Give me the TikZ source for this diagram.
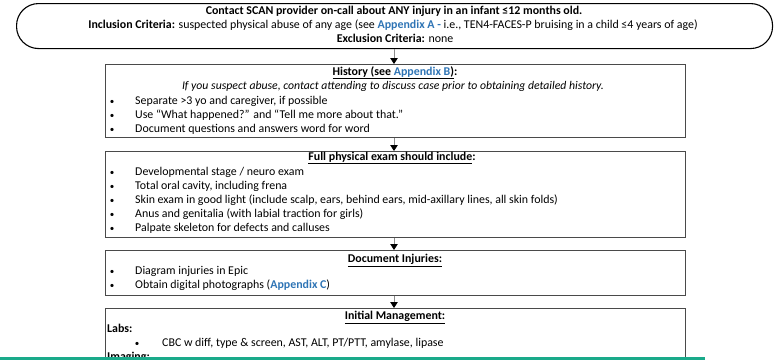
\documentclass[tikz,border=0pt]{standalone}
\usepackage{fontspec}
\setmainfont{Carlito}
\usetikzlibrary{arrows.meta}
\definecolor{linkblue}{HTML}{2E74B5}
\definecolor{boxgray}{HTML}{4A4A4A}
\definecolor{shaftgray}{HTML}{8C8C8C}
\definecolor{tealline}{HTML}{1AAA8A}
\begin{document}
\begin{tikzpicture}[x=1pt,y=-1pt,
  font=\fontsize{11.9}{14}\selectfont,
  box/.style={draw=boxgray, line width=1.2pt, inner sep=0pt, anchor=north west},
  stadium/.style={draw=black, line width=1.1pt, rounded corners=22pt, inner sep=0pt, anchor=north west},
  ctext/.style={anchor=mid, inner sep=0pt},
  ltext/.style={anchor=mid west, inner sep=0pt},
  bul/.style={anchor=mid, inner sep=0pt, font=\fontsize{9}{10}\selectfont},
  flow/.style={draw=shaftgray, line width=0.8pt, -{Triangle[length=6pt,width=7.5pt,color=black]}}
]
\useasboundingbox (0,0) rectangle (782,360);

% top stadium
\node[stadium, minimum width=756pt, minimum height=45pt] (top) at (16,3) {};
\node[ctext] (t1) at (394,12) {\bfseries Contact SCAN provider on-call about ANY injury in an infant ≤12 months old.};
\node[ctext] (t2) at (393,26) {\textbf{Inclusion Criteria:} suspected physical abuse of any age (see \textcolor{linkblue}{\textbf{Appendix A -}} i.e., TEN4-FACES-P bruising in a child ≤4 years of age)};
\node[ctext] (t3) at (395,40) {\textbf{Exclusion Criteria:} none};

% history box
\node[box, minimum width=580pt, minimum height=73pt] (hist) at (105,64) {};
\node[ctext] (ht) at (395,73) {\textbf{\underline{History (see \textcolor{linkblue}{Appendix B})}:}};
\node[ctext, font=\fontsize{11.75}{14}\selectfont] (hi) at (393,87) {\textit{If you suspect abuse, contact attending to discuss case prior to obtaining detailed history.}};
\node[bul] (hb1) at (112,102) {\textbullet};
\node[ltext] (h1) at (135,102) {Separate >3 yo and caregiver, if possible};
\node[bul] (hb2) at (112,116) {\textbullet};
\node[ltext] (h2) at (135,116) {Use “What happened?” and “Tell me more about that.”};
\node[bul] (hb3) at (112,130) {\textbullet};
\node[ltext] (h3) at (135,130) {Document questions and answers word for word};

% exam box
\node[box, minimum width=580pt, minimum height=86pt] (exam) at (105,151) {};
\node[ctext] (et) at (392,158) {\textbf{\underline{Full physical exam should include}:}};
\node[bul] (eb1) at (112,173) {\textbullet};
\node[ltext] (e1) at (135,173) {Developmental stage / neuro exam};
\node[bul] (eb2) at (112,187) {\textbullet};
\node[ltext] (e2) at (135,187) {Total oral cavity, including frena};
\node[bul] (eb3) at (112,201) {\textbullet};
\node[ltext] (e3) at (135,201) {Skin exam in good light (include scalp, ears, behind ears, mid-axillary lines, all skin folds)};
\node[bul] (eb4) at (112,215) {\textbullet};
\node[ltext] (e4) at (135,215) {Anus and genitalia (with labial traction for girls)};
\node[bul] (eb5) at (112,229) {\textbullet};
\node[ltext] (e5) at (135,229) {Palpate skeleton for defects and calluses};

% document box
\node[box, minimum width=580pt, minimum height=45pt] (doc) at (105,250) {};
\node[ctext] (dt) at (395,260) {\textbf{\underline{Document Injuries:}}};
\node[bul] (db1) at (112,272) {\textbullet};
\node[ltext] (d1) at (135,272) {Diagram injuries in Epic};
\node[bul] (db2) at (112,286) {\textbullet};
\node[ltext] (d2) at (135,286) {Obtain digital photographs (\textcolor{linkblue}{\textbf{Appendix C}})};

% initial management box (clipped at bottom)
\begin{scope}
\clip (0,0) rectangle (782,357);
\node[box, minimum width=580pt, minimum height=90pt] (init) at (105,308) {};
\node[ctext] (it) at (395,317) {\textbf{\underline{Initial Management:}}};
\node[ltext] (il) at (107,330) {\textbf{Labs:}};
\node[bul] (ib1) at (137,344) {\textbullet};
\node[ltext] (i1) at (162,344) {CBC w diff, type \& screen, AST, ALT, PT/PTT, amylase, lipase};
\node[ltext] (im) at (107,358) {\textbf{Imaging:}};
\end{scope}

% connectors
\coordinate (ax) at (394,0);
\draw[flow] (top.south -| ax) -- (hist.north -| ax);
\draw[flow] (hist.south -| ax) -- (exam.north -| ax);
\draw[flow] (exam.south -| ax) -- (doc.north -| ax);
\draw[flow] (doc.south -| ax) -- (init.north -| ax);

% teal rule at bottom
\coordinate (tl) at (0,358.5);
\coordinate (tr) at (705,358.5);
\draw[tealline, line width=2.5pt] (tl) -- (tr);
\end{tikzpicture}
\end{document}
